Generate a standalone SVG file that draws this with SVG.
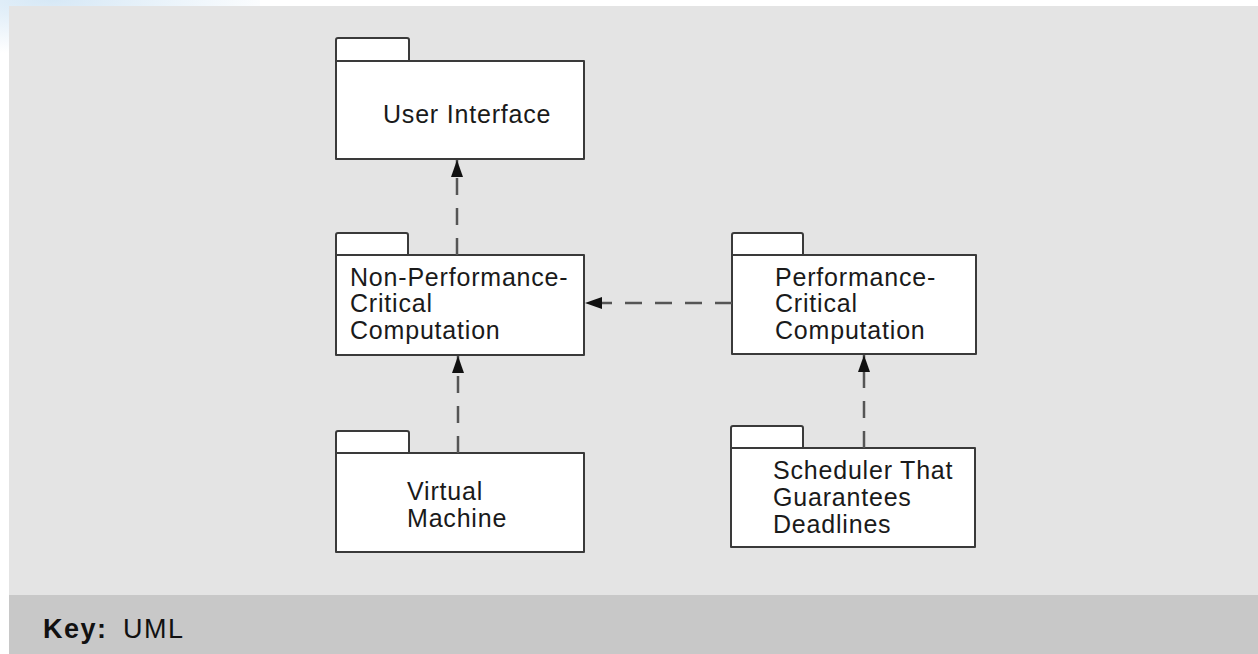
<svg xmlns="http://www.w3.org/2000/svg" width="1258" height="654" viewBox="0 0 1258 654">
  <defs>
    <radialGradient id="glow" cx="0.2" cy="0" r="0.9">
      <stop offset="0" stop-color="#d6e8f6"/>
      <stop offset="1" stop-color="#ffffff"/>
    </radialGradient>
    <marker id="arr" markerUnits="userSpaceOnUse" markerWidth="18" markerHeight="12" viewBox="0 0 18 12" refX="17" refY="6" orient="auto">
      <path d="M0,0 L17,6 L0,12 Z" fill="#111"/>
    </marker>
    <style>
      .pkg { fill: #ffffff; stroke: #3a3a3a; stroke-width: 2; stroke-linejoin: round; }
      .lbl { font-family: "Liberation Sans", Arial, sans-serif; font-size: 25px; letter-spacing: 0.8px; fill: #1a1a1a; }
      .dep { fill: none; stroke: #555; stroke-width: 2.5; stroke-dasharray: 17 13; marker-end: url(#arr); }
      .key { font-family: "Liberation Sans", Arial, sans-serif; font-size: 27px; letter-spacing: 1.5px; fill: #111; }
    </style>
  </defs>

  <rect x="0" y="0" width="1258" height="654" fill="#ffffff"/>
  <rect x="0" y="0" width="260" height="60" fill="url(#glow)"/>
  <rect x="9" y="6" width="1249" height="589" fill="#e4e4e4"/>
  <rect x="9" y="595" width="1249" height="59" fill="#c8c8c8"/>

  <g id="user-interface">
    <path class="pkg" d="M336,61 L336,40 Q336,38 338,38 L407,38 Q409,38 409,40 L409,61"/>
    <rect class="pkg" x="336" y="61" width="248" height="98"/>
    <text class="lbl" x="383" y="123">User Interface</text>
  </g>

  <g id="non-performance-critical">
    <path class="pkg" d="M336,255 L336,235 Q336,233 338,233 L406,233 Q408,233 408,235 L408,255"/>
    <rect class="pkg" x="336" y="255" width="248" height="100"/>
    <text class="lbl" x="350" y="286">Non-Performance-</text>
    <text class="lbl" x="350" y="312">Critical</text>
    <text class="lbl" x="350" y="339">Computation</text>
  </g>

  <g id="performance-critical">
    <path class="pkg" d="M732,255 L732,235 Q732,233 734,233 L801,233 Q803,233 803,235 L803,255"/>
    <rect class="pkg" x="732" y="255" width="244" height="99"/>
    <text class="lbl" x="775" y="286">Performance-</text>
    <text class="lbl" x="775" y="312">Critical</text>
    <text class="lbl" x="775" y="339">Computation</text>
  </g>

  <g id="virtual-machine">
    <path class="pkg" d="M336,453 L336,433 Q336,431 338,431 L407,431 Q409,431 409,433 L409,453"/>
    <rect class="pkg" x="336" y="453" width="248" height="99"/>
    <text class="lbl" x="407" y="500">Virtual</text>
    <text class="lbl" x="407" y="527">Machine</text>
  </g>

  <g id="scheduler">
    <path class="pkg" d="M731,448 L731,428 Q731,426 733,426 L801,426 Q803,426 803,428 L803,448"/>
    <rect class="pkg" x="731" y="448" width="244" height="99"/>
    <text class="lbl" x="773" y="479">Scheduler That</text>
    <text class="lbl" x="773" y="506">Guarantees</text>
    <text class="lbl" x="773" y="533">Deadlines</text>
  </g>

  <g id="connectors">
    <path class="dep" d="M457,255 L457,160"/>
    <path class="dep" d="M458,453 L458,356"/>
    <path class="dep" d="M864,448 L864,355"/>
    <path class="dep" d="M732,303 L585,303"/>
  </g>

  <g id="key">
    <text class="key" x="43" y="638"><tspan font-weight="bold">Key:</tspan><tspan x="123">UML</tspan></text>
  </g>
</svg>
